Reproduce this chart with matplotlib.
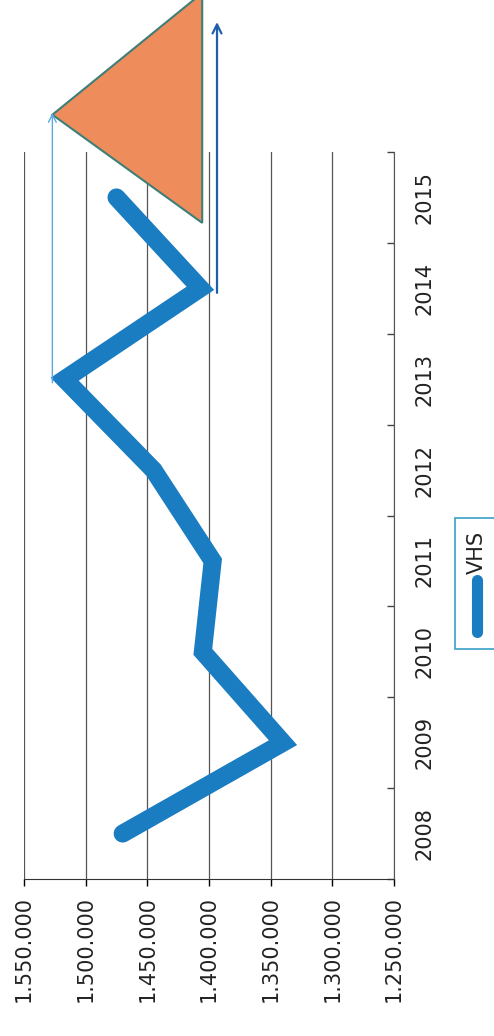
import matplotlib
matplotlib.use("Agg")
import matplotlib.pyplot as plt
from matplotlib.patches import Polygon, Rectangle
from matplotlib.lines import Line2D
from matplotlib.ticker import FuncFormatter, FixedLocator

# ── data ─────────────────────────────────────────────────────────
years = ["2008", "2009", "2010", "2011", "2012", "2013", "2014", "2015"]
vhs = [1470000, 1340000, 1405000, 1397000, 1445000, 1517000, 1407000, 1475000]
value_ticks = [1250000, 1300000, 1350000, 1400000, 1450000, 1500000, 1550000]
series_name = "VHS"

# annotation shapes (value, category position)
triangle = [(1527000, 7.91), (1405500, 9.25), (1405500, 6.72)]
arrow_light = [(1527000, 4.96), (1527000, 7.93)]
arrow_dark = [(1393500, 5.95), (1393500, 8.93)]

LINE_BLUE = "#1a7cc1"
TXT = "#222222"

fig = plt.figure(figsize=(4.94, 10.36), dpi=100)
# chart is drawn rotated: values run right->left, years bottom->top
ax = fig.add_axes([24 / 494, 157 / 1036, 370 / 494, 727 / 1036])

pos = list(range(len(years)))
ax.plot(vhs, pos, color=LINE_BLUE, lw=13, solid_capstyle="round",
        solid_joinstyle="miter", zorder=3)

ax.set_xlim(1550000, 1250000)
ax.set_ylim(-0.5, len(years) - 0.5)

ax.xaxis.set_major_locator(FixedLocator(value_ticks))
ax.xaxis.set_major_formatter(FuncFormatter(lambda v, _: f"{v:,.0f}".replace(",", ".")))
ax.grid(axis="x", color="#555555", lw=0.9)
ax.set_axisbelow(True)
ax.tick_params(axis="x", direction="out", length=5, width=1, pad=7,
               labelsize=15, labelcolor=TXT, labelrotation=90)

ax.yaxis.tick_right()
ax.set_yticks(pos)
ax.set_yticklabels(years)
ax.set_yticks([p - 0.5 for p in pos] + [len(years) - 0.5], minor=True)
ax.tick_params(axis="y", which="major", length=0, pad=15, labelsize=15,
               labelcolor=TXT, labelrotation=90)
ax.tick_params(axis="y", which="minor", direction="in", length=5, width=1,
               color="#444444", right=True, left=False)
for lab in ax.get_yticklabels():
    lab.set_va("center")

ax.spines["top"].set_visible(False)
ax.spines["left"].set_visible(False)
ax.spines["right"].set_color("#555555")
ax.spines["bottom"].set_color("#333333")

# ── annotations ─────────────────────────────────────────────────
ax.add_patch(Polygon(triangle, closed=True, facecolor="#ee8c5c",
                     edgecolor="#3d7f78", lw=1.5, clip_on=False, zorder=4))
ax.annotate("", xy=arrow_light[1], xytext=arrow_light[0],
            arrowprops=dict(arrowstyle="->", color="#5aa7dc", lw=1.0,
                            shrinkA=0, shrinkB=0, mutation_scale=14),
            annotation_clip=False, zorder=5)
ax.annotate("", xy=arrow_dark[1], xytext=arrow_dark[0],
            arrowprops=dict(arrowstyle="->", color="#1f5ea8", lw=1.6,
                            shrinkA=0, shrinkB=0, mutation_scale=16),
            annotation_clip=False, zorder=5)

# ── legend (rotated, drawn by hand) ─────────────────────────────
fig.patches.append(Rectangle((455 / 494, (1036 - 649) / 1036), 45 / 494, 131 / 1036,
                             transform=fig.transFigure, facecolor="white",
                             edgecolor="#3aa0c8", lw=1.2))
fig.lines.append(Line2D([477 / 494, 477 / 494], [(1036 - 632) / 1036, (1036 - 580) / 1036],
                        transform=fig.transFigure, color=LINE_BLUE, lw=8,
                        solid_capstyle="round"))
fig.text(477 / 494, (1036 - 552) / 1036, series_name, rotation=90, ha="center",
         va="center", fontsize=15, color=TXT)

fig.savefig("out.png", dpi=100)
